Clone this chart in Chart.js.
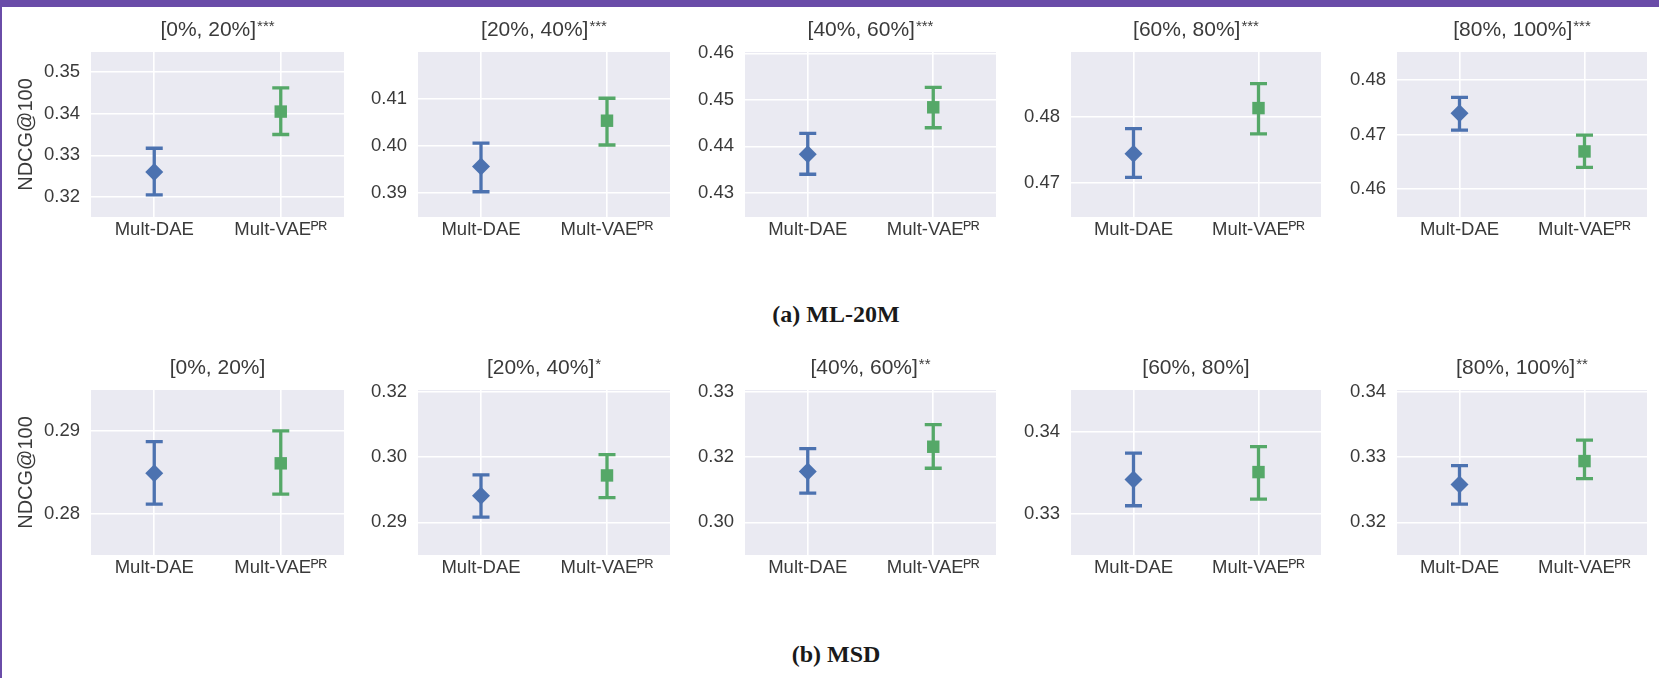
<!DOCTYPE html>
<html>
<head>
<meta charset="utf-8">
<script src="https://cdn.jsdelivr.net/npm/chart.js@4.4.1/dist/chart.umd.min.js"></script>
<style>
  body { margin: 0; background: #fff; width: 1659px; height: 678px; overflow: hidden; position: relative; }
  #topbar { position: absolute; left: 0; top: 0; width: 1659px; height: 7px; background: #6a4ca8; }
  #leftbar { position: absolute; left: 0; top: 0; width: 2px; height: 678px; background: #6a4ca8; }
  canvas.panel { position: absolute; }
  .caption { position: absolute; width: 400px; text-align: center; font-family: 'Liberation Serif', serif;
             font-weight: bold; font-size: 24px; line-height: 30px; color: #1a1a1a; }
</style>
</head>
<body>
<div id="topbar"></div>
<div id="leftbar"></div>
<div class="caption" style="left:636px; top:299px;">(a) ML-20M</div>
<div class="caption" style="left:636px; top:639px;">(b) MSD</div>
<script>
// categories and panel titles
const models = ['Mult-DAE', 'Mult-VAEᴾᴿ'];
const buckets = ['[0%, 20%]', '[20%, 40%]', '[40%, 60%]', '[60%, 80%]', '[80%, 100%]'];

// (a) ML-20M
const mlStars = ['***', '***', '***', '***', '***'];
const mlDaeMean = [0.3260, 0.3956, 0.4383, 0.4744, 0.4739];
const mlDaeLow  = [0.3205, 0.3902, 0.4340, 0.4708, 0.4708];
const mlDaeHigh = [0.3317, 0.4006, 0.4428, 0.4782, 0.4768];
const mlVaeMean = [0.3405, 0.4054, 0.4484, 0.4813, 0.4669];
const mlVaeLow  = [0.3350, 0.4002, 0.4440, 0.4774, 0.4640];
const mlVaeHigh = [0.3462, 0.4102, 0.4527, 0.4850, 0.4699];
const mlYMin = [0.3152, 0.3848, 0.4248, 0.4648, 0.4549];
const mlYMax = [0.3548, 0.4201, 0.4603, 0.4898, 0.4851];
const mlTicks = [[0.32, 0.33, 0.34, 0.35], [0.39, 0.40, 0.41], [0.43, 0.44, 0.45, 0.46], [0.47, 0.48], [0.46, 0.47, 0.48]];
const mlTickLabels = [['0.32', '0.33', '0.34', '0.35'], ['0.39', '0.40', '0.41'], ['0.43', '0.44', '0.45', '0.46'], ['0.47', '0.48'], ['0.46', '0.47', '0.48']];

// (b) MSD
const msdStars = ['', '*', '**', '', '**'];
const msdDaeMean = [0.2849, 0.2991, 0.3128, 0.3342, 0.3258];
const msdDaeLow  = [0.2812, 0.2958, 0.3095, 0.3310, 0.3228];
const msdDaeHigh = [0.2887, 0.3023, 0.3163, 0.3374, 0.3287];
const msdVaeMean = [0.2861, 0.3022, 0.3166, 0.3351, 0.3294];
const msdVaeLow  = [0.2824, 0.2988, 0.3133, 0.3318, 0.3267];
const msdVaeHigh = [0.2900, 0.3054, 0.3200, 0.3382, 0.3326];
const msdYMin = [0.2751, 0.2900, 0.3000, 0.3250, 0.3150];
const msdYMax = [0.2949, 0.3153, 0.3253, 0.3451, 0.3403];
const msdTicks = [[0.28, 0.29], [0.295, 0.305, 0.315], [0.305, 0.315, 0.325], [0.33, 0.34], [0.32, 0.33, 0.34]];
const msdTickLabels = [['0.28', '0.29'], ['0.29', '0.30', '0.32'], ['0.30', '0.32', '0.33'], ['0.33', '0.34'], ['0.32', '0.33', '0.34']];

// layout
const plotLeft = [91, 418, 745, 1071, 1397];
const plotRight = [349, 675, 1001, 1326, 1652];
const rowTop = [52, 390];
const rowBottom = [217, 555];
const AXIS_W = 91, TOP_PAD = 40, BOTTOM_H = 40, RIGHT_PAD = 4;

const BLUE = '#4c72b0';
const GREEN = '#55a868';
const TEXT = '#3a3a3a';
const FONT = "'Liberation Sans', 'DejaVu Sans', Arial, sans-serif";

const bgPlugin = {
  id: 'panelBg',
  beforeDraw(chart) {
    const { ctx, chartArea: a } = chart;
    ctx.save();
    ctx.fillStyle = '#eaeaf2';
    ctx.fillRect(a.left, a.top, a.right - a.left, a.bottom - a.top);
    ctx.restore();
  }
};

const errorBarPlugin = {
  id: 'errorBars',
  beforeDatasetsDraw(chart) {
    const { ctx, scales: { x, y } } = chart;
    const ds = chart.data.datasets[0];
    const cap = 8.5;
    ctx.save();
    ctx.lineWidth = 3.3;
    ds.errLow.forEach((lo, i) => {
      const px = x.getPixelForValue(i);
      const yLo = y.getPixelForValue(lo);
      const yHi = y.getPixelForValue(ds.errHigh[i]);
      ctx.strokeStyle = ds.pointBackgroundColor[i];
      ctx.beginPath();
      ctx.moveTo(px, yLo); ctx.lineTo(px, yHi);
      ctx.moveTo(px - cap, yLo); ctx.lineTo(px + cap, yLo);
      ctx.moveTo(px - cap, yHi); ctx.lineTo(px + cap, yHi);
      ctx.stroke();
    });
    ctx.restore();
  }
};

const titlePlugin = {
  id: 'panelTitle',
  afterDraw(chart, args, opts) {
    const { ctx, chartArea: a } = chart;
    ctx.save();
    ctx.fillStyle = TEXT;
    ctx.textAlign = 'left';
    ctx.textBaseline = 'alphabetic';
    ctx.font = '21px ' + FONT;
    const mainW = ctx.measureText(opts.text).width;
    ctx.font = '15px ' + FONT;
    const starW = opts.stars ? ctx.measureText(opts.stars).width + 1 : 0;
    const x0 = (a.left + a.right) / 2 - (mainW + starW) / 2;
    const base = a.top - 16;
    ctx.font = '21px ' + FONT;
    ctx.fillText(opts.text, x0, base);
    if (opts.stars) {
      ctx.font = '15px ' + FONT;
      ctx.fillText(opts.stars, x0 + mainW + 1, base - 5);
    }
    ctx.restore();
  }
};

function makePanel(row, col, d) {
  const L = plotLeft[col], R = plotRight[col];
  const T = rowTop[row], B = rowBottom[row];
  const canvas = document.createElement('canvas');
  canvas.className = 'panel';
  canvas.width = AXIS_W + (R - L) + RIGHT_PAD;
  canvas.height = TOP_PAD + (B - T) + BOTTOM_H;
  canvas.style.left = (L - AXIS_W) + 'px';
  canvas.style.top = (T - TOP_PAD) + 'px';
  canvas.style.width = canvas.width + 'px';
  canvas.style.height = canvas.height + 'px';
  document.body.appendChild(canvas);

  const tickVals = d.ticks[col];
  const tickLabels = d.tickLabels[col];

  new Chart(canvas, {
    type: 'line',
    data: {
      labels: models,
      datasets: [{
        data: [d.daeMean[col], d.vaeMean[col]],
        errLow: [d.daeLow[col], d.vaeLow[col]],
        errHigh: [d.daeHigh[col], d.vaeHigh[col]],
        showLine: false,
        pointStyle: ['rectRot', 'rect'],
        pointRadius: [9, 8.8],
        pointBackgroundColor: [BLUE, GREEN],
        pointBorderColor: [BLUE, GREEN],
        pointBorderWidth: 0
      }]
    },
    options: {
      responsive: false,
      animation: false,
      devicePixelRatio: 1,
      layout: { padding: { top: TOP_PAD, right: RIGHT_PAD, left: 0, bottom: 0 } },
      plugins: {
        legend: { display: false },
        tooltip: { enabled: false },
        panelTitle: { text: buckets[col], stars: d.stars[col] }
      },
      scales: {
        x: {
          type: 'category',
          offset: true,
          grid: { color: '#ffffff', lineWidth: 1.6, drawTicks: false, offset: false },
          border: { display: false },
          ticks: { padding: 2, color: TEXT, font: { family: FONT, size: 18.5 } },
          afterFit: (s) => { s.height = BOTTOM_H; }
        },
        y: {
          min: d.yMin[col],
          max: d.yMax[col],
          grid: { color: '#ffffff', lineWidth: 1.6, drawTicks: false },
          border: { display: false },
          ticks: {
            padding: 11,
            color: TEXT,
            font: { family: FONT, size: 18.5 },
            callback: (v) => {
              const k = tickVals.findIndex(t => Math.abs(t - v) < 1e-9);
              return k >= 0 ? tickLabels[k] : '';
            }
          },
          afterBuildTicks: (s) => { s.ticks = tickVals.map(v => ({ value: v })); },
          afterFit: (s) => { s.width = AXIS_W; },
          title: {
            display: col === 0,
            text: 'NDCG@100',
            color: TEXT,
            font: { family: FONT, size: 20 },
            padding: { top: 14, bottom: 0 }
          }
        }
      }
    },
    plugins: [bgPlugin, errorBarPlugin, titlePlugin]
  });
}

const ml = {
  stars: mlStars, daeMean: mlDaeMean, daeLow: mlDaeLow, daeHigh: mlDaeHigh,
  vaeMean: mlVaeMean, vaeLow: mlVaeLow, vaeHigh: mlVaeHigh,
  yMin: mlYMin, yMax: mlYMax, ticks: mlTicks, tickLabels: mlTickLabels
};
const msd = {
  stars: msdStars, daeMean: msdDaeMean, daeLow: msdDaeLow, daeHigh: msdDaeHigh,
  vaeMean: msdVaeMean, vaeLow: msdVaeLow, vaeHigh: msdVaeHigh,
  yMin: msdYMin, yMax: msdYMax, ticks: msdTicks, tickLabels: msdTickLabels
};

for (let c = 0; c < 5; c++) {
  makePanel(0, c, ml);
  makePanel(1, c, msd);
}
</script>
</body>
</html>
